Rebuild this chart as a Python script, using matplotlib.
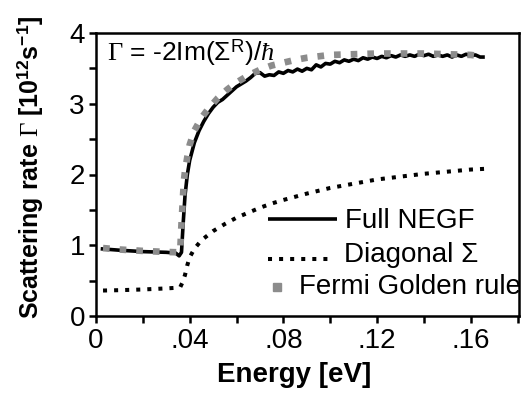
import matplotlib
matplotlib.use("Agg")
import matplotlib.pyplot as plt
from matplotlib.ticker import MultipleLocator, FixedLocator, FixedFormatter

plt.rcParams['font.family'] = ['Liberation Sans', 'DejaVu Sans']
plt.rcParams['mathtext.fontset'] = 'custom'
plt.rcParams['mathtext.rm'] = 'Liberation Serif'
plt.rcParams['mathtext.it'] = 'Liberation Serif:italic'
plt.rcParams['mathtext.sf'] = 'Liberation Sans'
plt.rcParams['mathtext.bf'] = 'Liberation Sans:bold'

# ---- data ----
negf_x = [0.002, 0.010, 0.020, 0.030, 0.034, 0.0355, 0.0365, 0.0372, 0.038, 0.039,
          0.040, 0.042, 0.044, 0.046, 0.048, 0.050, 0.052, 0.054, 0.056, 0.058,
          0.060, 0.062, 0.064, 0.066, 0.068, 0.070, 0.072, 0.074, 0.076, 0.078,
          0.080, 0.082, 0.084, 0.086, 0.088, 0.090, 0.092, 0.094, 0.096, 0.098,
          0.100, 0.102, 0.104, 0.106, 0.108, 0.110, 0.112, 0.114, 0.116, 0.118,
          0.120, 0.122, 0.124, 0.126, 0.128, 0.130, 0.132, 0.134, 0.136, 0.138,
          0.140, 0.142, 0.144, 0.146, 0.148, 0.150, 0.152, 0.154, 0.156, 0.158,
          0.160, 0.162, 0.164, 0.166]
negf_y = [0.95, 0.93, 0.91, 0.90, 0.89, 0.85, 0.90, 1.30, 1.70, 2.00,
          2.20, 2.45, 2.62, 2.75, 2.86, 2.95, 3.02, 3.06, 3.12, 3.18,
          3.24, 3.28, 3.32, 3.37, 3.43, 3.44, 3.39, 3.41, 3.40, 3.45,
          3.43, 3.47, 3.45, 3.49, 3.46, 3.50, 3.48, 3.55, 3.52, 3.57,
          3.56, 3.60, 3.58, 3.62, 3.60, 3.63, 3.61, 3.65, 3.63, 3.66,
          3.64, 3.67, 3.65, 3.68, 3.66, 3.69, 3.67, 3.69, 3.67, 3.70,
          3.68, 3.70, 3.67, 3.69, 3.67, 3.69, 3.66, 3.69, 3.67, 3.70,
          3.68, 3.69, 3.66, 3.66]

diag_x = [0.003, 0.010, 0.020, 0.030, 0.035, 0.036, 0.037, 0.038, 0.039, 0.040,
          0.042, 0.045, 0.050, 0.055, 0.060, 0.065, 0.070, 0.075, 0.080, 0.090,
          0.100, 0.110, 0.120, 0.130, 0.140, 0.150, 0.160, 0.166]
diag_y = [0.36, 0.365, 0.375, 0.39, 0.40, 0.41, 0.48, 0.58, 0.72, 0.83,
          0.95, 1.07, 1.20, 1.30, 1.39, 1.46, 1.53, 1.59, 1.64, 1.73,
          1.81, 1.87, 1.93, 1.97, 2.01, 2.04, 2.07, 2.08]

fgr_x = [0.003, 0.010, 0.020, 0.030, 0.0355, 0.036, 0.0365, 0.037, 0.0375, 0.038,
         0.039, 0.040, 0.042, 0.045, 0.048, 0.052, 0.056, 0.060, 0.065, 0.070,
         0.075, 0.080, 0.085, 0.090, 0.095, 0.100, 0.110, 0.120, 0.130, 0.140,
         0.150, 0.160, 0.165]
fgr_y = [0.96, 0.94, 0.92, 0.905, 0.90, 0.95, 1.30, 1.60, 1.90, 2.05,
         2.25, 2.42, 2.62, 2.80, 2.93, 3.08, 3.20, 3.30, 3.40, 3.48,
         3.54, 3.58, 3.62, 3.65, 3.67, 3.69, 3.70, 3.71, 3.71, 3.71,
         3.70, 3.69, 3.67]

labels = ["Full NEGF", "Diagonal \u03A3", "Fermi Golden rule"]
xtick_vals = [0, 0.04, 0.08, 0.12, 0.16]
xtick_labels = ["0", ".04", ".08", ".12", ".16"]
ytick_vals = [0, 1, 2, 3, 4]
ytick_labels = ["0", "1", "2", "3", "4"]

gray = '#8c8c8c'

fig = plt.figure(figsize=(5.24, 4.01), dpi=100)
ax = fig.add_axes([96/524, 1-316/401, (519-96)/524, (316-33)/401])

ax.plot(negf_x, negf_y, color='black', lw=2.6, solid_capstyle='butt', zorder=3)
ax.plot(diag_x, diag_y, color='black', lw=2.9, dashes=(1, 1.75),
        dash_capstyle='butt', zorder=3)
ax.plot(fgr_x, fgr_y, color=gray, lw=4.8, dashes=(1, 1.5),
        dash_capstyle='butt', zorder=4)

ax.set_xlim(0, 0.1806)
ax.set_ylim(0, 4)

ax.xaxis.set_major_locator(FixedLocator(xtick_vals))
ax.xaxis.set_major_formatter(FixedFormatter(xtick_labels))
ax.xaxis.set_minor_locator(MultipleLocator(0.02))
ax.yaxis.set_major_locator(FixedLocator(ytick_vals))
ax.yaxis.set_major_formatter(FixedFormatter(ytick_labels))
ax.yaxis.set_minor_locator(MultipleLocator(0.5))

for s in ax.spines.values():
    s.set_linewidth(1.8)
ax.tick_params(which='both', direction='out', width=1.8, length=5,
               labelsize=20, pad=3)
ax.tick_params(axis='x', pad=4)

ax.set_xlabel("Energy [eV]", fontsize=20, fontweight='bold')
ax.xaxis.set_label_coords((294-96)/423, -(375-316)/283, transform=ax.transAxes)
ax.xaxis.label.set_va('center')
ax.set_ylabel(r"Scattering rate $\Gamma$ [10$^{\mathbf{12}}$s$^{\mathbf{-1}}$]",
              fontsize=18, fontweight='bold')
ax.yaxis.set_label_coords(-(96-30)/423, (316-167)/283)
ax.yaxis.label.set_va('center')

ax.text(107/524, 1-53/401, r"$\Gamma$ = -2Im($\mathsf{\Sigma}^{\mathsf{R}}$)/$\hbar$",
        transform=fig.transFigure, fontsize=19, va='center', ha='left')

# legend (manual, in axes coordinates)
def fx(px):
    return (px-96)/423
def fy(py):
    return (316-py)/283

ax.plot([fx(268), fx(337)], [fy(219), fy(219)], transform=ax.transAxes,
        color='black', lw=2.6, solid_capstyle='butt', clip_on=False)
ax.text(fx(345), fy(221), labels[0], transform=ax.transAxes, fontsize=20,
        va='center', ha='left')
ax.plot([fx(268), fx(334)], [fy(259), fy(259)], transform=ax.transAxes,
        color='black', lw=2.9, dashes=(1, 1.75), dash_capstyle='butt', clip_on=False)
ax.text(fx(344), fy(255), labels[1], transform=ax.transAxes, fontsize=20,
        va='center', ha='left')
ax.plot([fx(277)], [fy(287)], transform=ax.transAxes, marker='s', ms=5.5,
        color=gray, mec=gray, ls='none', clip_on=False)
ax.text(fx(299), fy(287), labels[2], transform=ax.transAxes, fontsize=20,
        va='center', ha='left')

fig.savefig("out.png", dpi=100)
